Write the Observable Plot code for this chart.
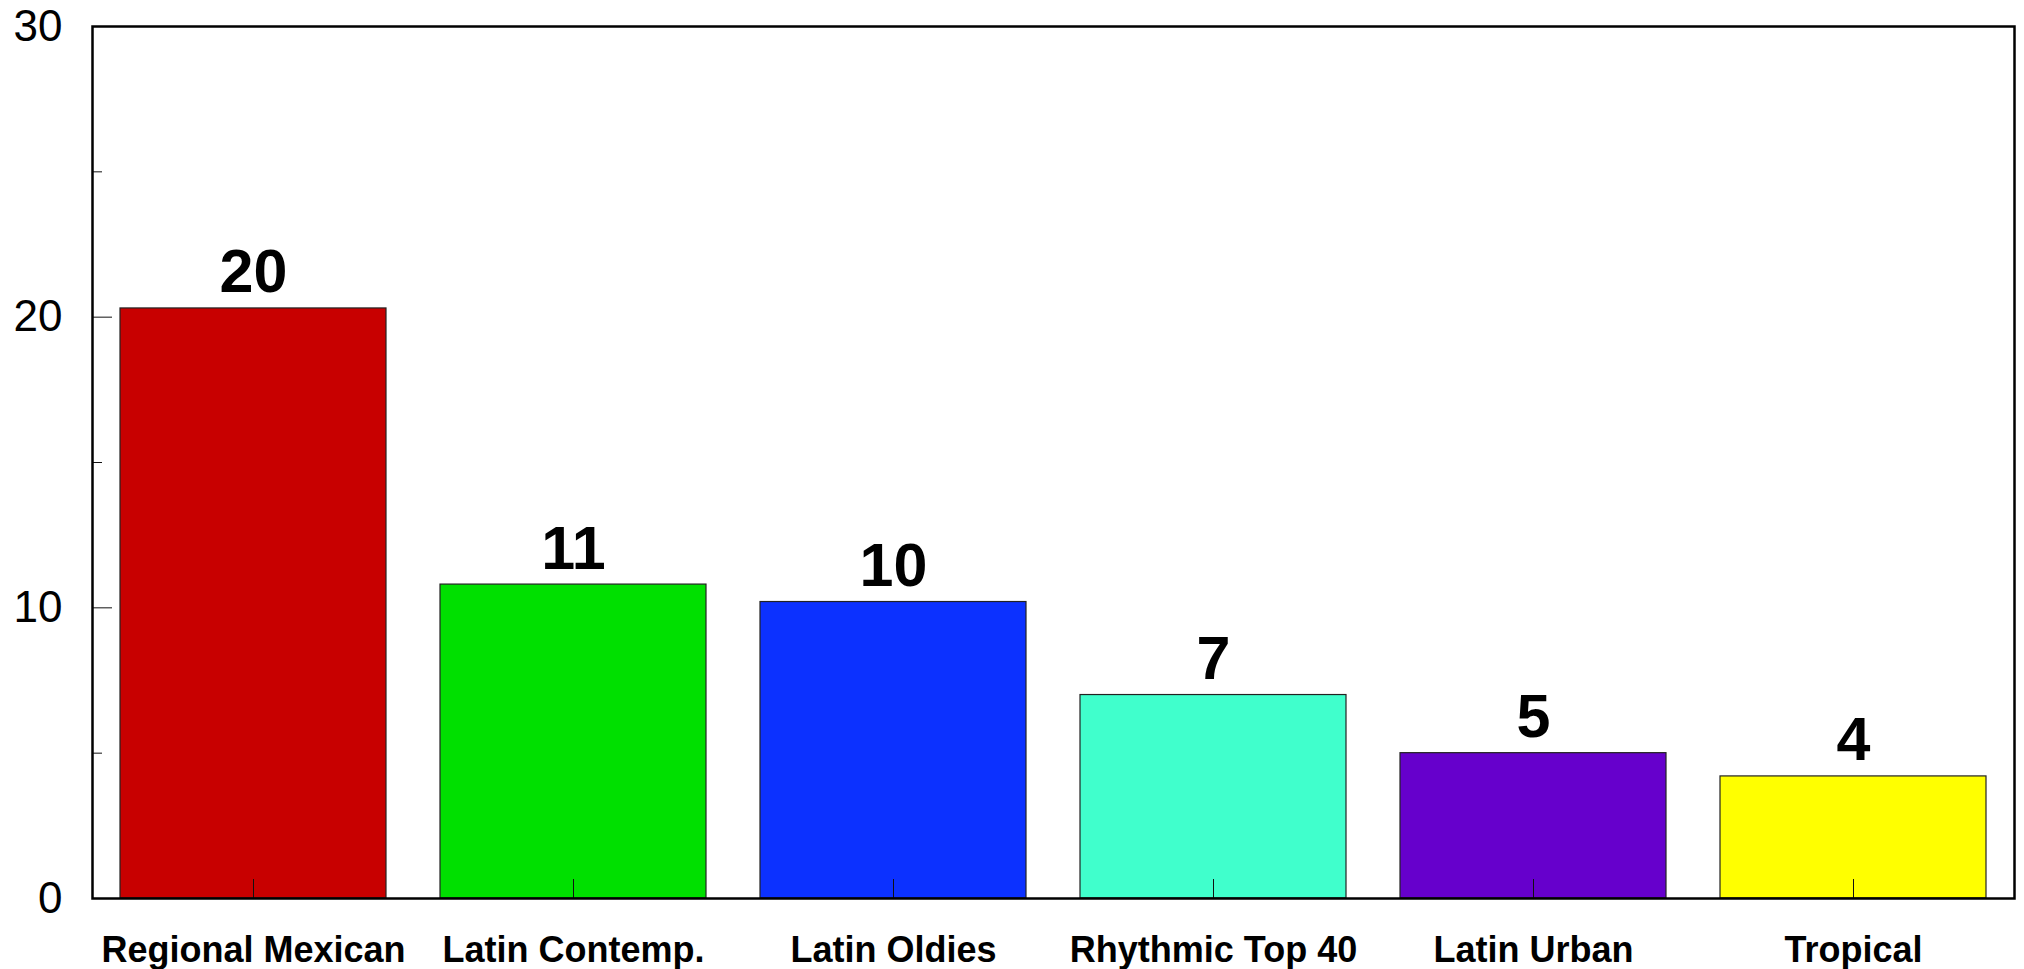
<!DOCTYPE html>
<html>
<head>
<meta charset="utf-8">
<script src="https://cdn.jsdelivr.net/npm/d3@7"></script>
<script src="https://cdn.jsdelivr.net/npm/@observablehq/plot@0.6"></script>
<style>
  html, body { margin: 0; padding: 0; background: #fff; overflow: hidden; }
  svg { font-family: "Liberation Sans", Arial, sans-serif; }
</style>
</head>
<body>
<div id="chart"></div>
<script>
const categories = ["Regional Mexican", "Latin Contemp.", "Latin Oldies", "Rhythmic Top 40", "Latin Urban", "Tropical"];
const values = [20.3, 10.8, 10.2, 7.0, 5.0, 4.2];
const valueLabels = ["20", "11", "10", "7", "5", "4"];
const palette = ["#c80000", "#00e000", "#0c31ff", "#40ffcc", "#6600cc", "#ffff00"];
const yTicks = [0, 10, 20, 30];
const yMinorTicks = [5, 15, 25];

const data = categories.map((c, i) => ({category: c, value: values[i], label: valueLabels[i]}));

const chart = Plot.plot({
  width: 2024,
  height: 969,
  marginLeft: 92,
  marginRight: 10,
  marginTop: 26,
  marginBottom: 71,
  style: {fontFamily: "'Liberation Sans', Arial, sans-serif", background: "#fff"},
  x: {domain: categories, paddingInner: 0.17, paddingOuter: 0.085, label: null},
  y: {domain: [0, 30], label: null},
  color: {domain: categories, range: palette},
  marks: [
    Plot.barY(data, {x: "category", y: "value", fill: "category", stroke: "#222", strokeWidth: 1.2}),
    Plot.text(data, {x: "category", y: "value", text: "label", lineAnchor: "bottom", dy: -16, fontSize: 61, fontWeight: "bold", fill: "black"}),
    // y labels
    Plot.axisY(yTicks, {anchor: "left", tickSize: 0, tickPadding: 30, fontSize: 44, label: null}),
    // inward major ticks
    Plot.axisY(yTicks, {anchor: "left", tickSize: 20, dx: 20, tickFormat: () => "", label: null, stroke: "#111"}),
    // inward minor ticks
    Plot.axisY(yMinorTicks, {anchor: "left", tickSize: 10, dx: 10, tickFormat: () => "", label: null, stroke: "#111"}),
    // x ticks pointing up
    Plot.axisX({anchor: "bottom", tickSize: 19, dy: -19, tickFormat: () => "", label: null, stroke: "#111"}),
    // x labels
    Plot.axisX({anchor: "bottom", tickSize: 0, tickPadding: 38, fontSize: 36, fontWeight: "bold", label: null}),
    Plot.frame({stroke: "black", strokeWidth: 2.5})
  ]
});
document.getElementById("chart").appendChild(chart);
</script>
</body>
</html>
